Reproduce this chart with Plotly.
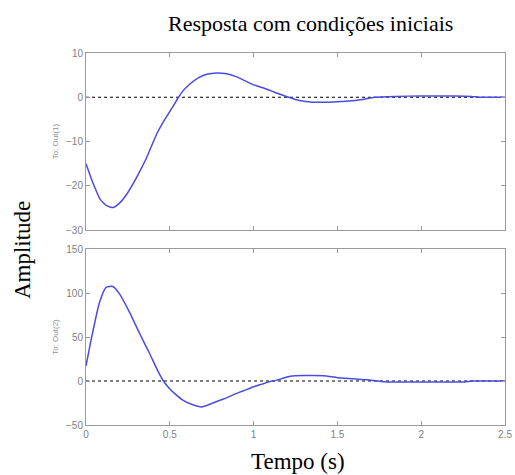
import plotly.graph_objects as go
from plotly.subplots import make_subplots

t1 = [0, 0.044, 0.084, 0.123, 0.163, 0.203, 0.243, 0.302, 0.362, 0.422, 0.472, 0.522, 0.552, 0.58, 0.62,
      0.67, 0.72, 0.78, 0.84, 0.9, 0.95, 1.0, 1.05, 1.1, 1.15, 1.2, 1.25, 1.3, 1.35, 1.45, 1.55, 1.65,
      1.72, 1.85, 2.0, 2.2, 2.3, 2.35, 2.5]
y1 = [-15, -19.6, -23, -24.5, -24.9, -23.8, -21.9, -18.1, -13.6, -8.3, -4.9, -1.9, 0, 1.5, 3.0,
      4.4, 5.2, 5.5, 5.3, 4.6, 3.7, 2.8, 2.2, 1.5, 0.8, 0.1, -0.5, -0.9, -1.1, -1.1, -0.9, -0.5,
      0, 0.2, 0.3, 0.3, 0.2, 0, 0]

t2 = [0, 0.035, 0.08, 0.12, 0.16, 0.2, 0.26, 0.32, 0.38, 0.43, 0.462, 0.5, 0.54, 0.58, 0.63, 0.69, 0.75,
      0.82, 0.88, 0.94, 1.0, 1.05, 1.09, 1.14, 1.18, 1.22, 1.3, 1.42, 1.5, 1.6, 1.7, 1.76, 1.8, 2.0, 2.26,
      2.3, 2.5]
y2 = [17, 51, 89, 106.5, 107.5, 99, 78, 54, 31, 11, 0, -9, -16, -22, -26.5, -29.5, -25.5,
      -20.5, -15.5, -11, -6.5, -3.5, -1, 1, 3.5, 5.5, 6.2, 6, 3.8, 2.5, 1, -0.5, -1, -1, -1,
      0, 0]

x_ticks = [0, 0.5, 1, 1.5, 2, 2.5]
x_tick_labels = ["0", "0.5", "1", "1.5", "2", "2.5"]
y1_ticks = [-30, -20, -10, 0, 10]
y2_ticks = [-50, 0, 50, 100, 150]

fig = make_subplots(rows=2, cols=1, shared_xaxes=False, vertical_spacing=0.05)

line_col = "rgb(75,75,225)"
for r, (t, y) in enumerate([(t1, y1), (t2, y2)], start=1):
    fig.add_trace(go.Scatter(x=[0, 2.5], y=[0, 0], mode="lines",
                             line=dict(color="black", width=1.2, dash="dot"),
                             showlegend=False, hoverinfo="skip"), row=r, col=1)
    fig.add_trace(go.Scatter(x=t, y=y, mode="lines",
                             line=dict(color=line_col, width=1.5, shape="spline", smoothing=0.5),
                             showlegend=False), row=r, col=1)

ax_common = dict(showline=True, linecolor="#9a9a9a", linewidth=1, mirror="ticks", ticks="inside",
                 ticklen=4, tickcolor="#9a9a9a", showgrid=False, zeroline=False, automargin=False,
                 ticklabeloverflow="allow",
                 tickfont=dict(family="Liberation Sans, Arial", size=10, color="#808080"))

fig.update_xaxes(range=[0, 2.5], tickvals=x_ticks, ticktext=x_tick_labels, **ax_common)
fig.update_xaxes(showticklabels=False, row=1, col=1)
fig.update_yaxes(**ax_common)
fig.update_yaxes(range=[-30, 10], tickvals=y1_ticks, row=1, col=1,
                 title=dict(text="To: Out(1)", font=dict(family="Liberation Sans, Arial", size=8, color="#909090"), standoff=6))
fig.update_yaxes(range=[-50, 150], tickvals=y2_ticks, row=2, col=1,
                 title=dict(text="To: Out(2)", font=dict(family="Liberation Sans, Arial", size=8, color="#909090"), standoff=6))

serif = "Liberation Serif, Times New Roman"
fig.update_layout(
    width=515, height=475,
    margin=dict(l=86, r=10, t=53, b=50),
    paper_bgcolor="white", plot_bgcolor="white",
    xaxis=dict(domain=[0, 1]), xaxis2=dict(domain=[0, 1]),
    yaxis=dict(domain=[0.524, 1]), yaxis2=dict(domain=[0, 0.473]),
    annotations=[
        dict(text="Resposta com condições iniciais", xref="paper", yref="paper", x=0.535, y=1.078,
             xanchor="center", yanchor="middle", showarrow=False,
             font=dict(family=serif, size=22, color="black")),
        dict(text="Amplitude", xref="paper", yref="paper", x=-0.153, y=0.47, xanchor="center", yanchor="middle",
             textangle=-90, showarrow=False,
             font=dict(family=serif, size=23, color="black")),
        dict(text="Tempo (s)", xref="paper", yref="paper", x=0.506, y=-0.097, xanchor="center", yanchor="middle",
             showarrow=False,
             font=dict(family=serif, size=23, color="black")),
    ],
)

fig.write_html("out.html", config={"displayModeBar": False},
               post_script="document.body.style.margin='0';document.body.style.overflow='hidden';")
